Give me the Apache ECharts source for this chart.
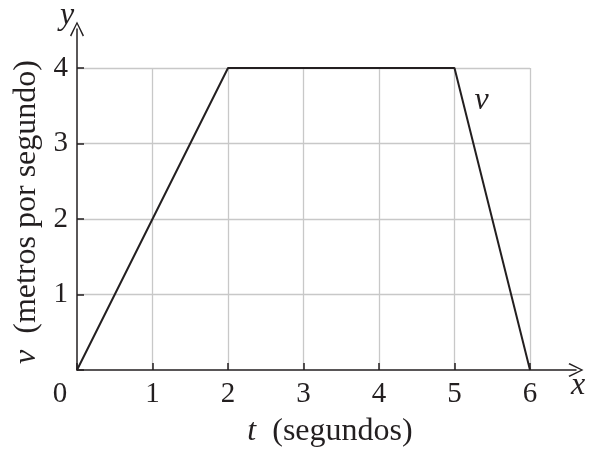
<!DOCTYPE html>
<html>
<head>
<meta charset="utf-8">
<script src="https://cdn.jsdelivr.net/npm/echarts@6/dist/echarts.min.js"></script>
<style>
  html, body { margin: 0; padding: 0; background: #fff; }
  #chart { width: 594px; height: 450px; }
</style>
</head>
<body>
<div id="chart"></div>
<script>
const tiempo = [0, 2, 5, 6];
const velocidad = [0, 4, 4, 0];
const tMax = 6;
const vMax = 4;
const curveName = "v";

const ink = "#231f20";
const gridGray = "#c8c8c8";
const serif = "Liberation Serif";

// open chevron arrow head
const chevron = "path://M0,10 L5,0 L10,10 L9.1,10.7 L5,2 L0.9,10.7 Z";

const cfg = {
  animation: false,
  backgroundColor: "#fff",
  grid: [
    { left: 77, top: 68, width: 453, height: 302, outerBoundsMode: "none", containLabel: false },
    { left: 77, top: 29, right: 18, bottom: 80, outerBoundsMode: "none", containLabel: false },
  ],
  xAxis: [
    {
      gridIndex: 0,
      type: "value",
      min: 0,
      max: tMax,
      interval: 1,
      axisLine: { show: false },
      axisTick: { show: true, inside: true, length: 7, lineStyle: { color: ink, width: 1.5 } },
      splitLine: { show: true, showMinLine: false, lineStyle: { color: gridGray, width: 1.3 } },
      axisLabel: {
        margin: 10,
        color: ink,
        fontFamily: serif,
        fontSize: 29,
        formatter: (v) => (v === 0 ? "{z|0}" : `${v}`),
        rich: { z: { padding: [0, 34, 0, 0], fontFamily: serif, fontSize: 29, color: ink } },
      },
      name: "{i|t}  (segundos)",
      nameLocation: "middle",
      nameGap: 46,
      nameTextStyle: {
        color: ink,
        fontFamily: serif,
        fontSize: 32,
        padding: [0, 0, 0, 53],
        rich: { i: { fontStyle: "italic", fontFamily: serif, fontSize: 32, color: ink } },
      },
    },
    {
      gridIndex: 1,
      type: "value",
      min: 0,
      max: 1,
      axisLine: {
        show: true,
        lineStyle: { color: ink, width: 1.5 },
        symbol: ["none", chevron],
        symbolSize: [16, 15],
      },
      axisTick: { show: false },
      axisLabel: { show: false },
      splitLine: { show: false },
      name: "x",
      nameLocation: "end",
      nameGap: -5,
      nameTextStyle: {
        color: ink,
        fontFamily: serif,
        fontSize: 32,
        fontStyle: "italic",
        align: "left",
        verticalAlign: "top",
      },
    },
  ],
  yAxis: [
    {
      gridIndex: 0,
      type: "value",
      min: 0,
      max: vMax,
      interval: 1,
      axisLine: { show: false },
      axisTick: { show: true, inside: true, length: 7, lineStyle: { color: ink, width: 1.5 } },
      splitLine: { show: true, showMinLine: false, lineStyle: { color: gridGray, width: 1.3 } },
      axisLabel: {
        margin: 9,
        color: ink,
        fontFamily: serif,
        fontSize: 29,
        formatter: (v) => (v === 0 ? "" : `${v}`),
      },
      name: "{i|v}  (metros por segundo)",
      nameLocation: "middle",
      nameGap: 30,
      nameTextStyle: {
        color: ink,
        fontFamily: serif,
        fontSize: 32,
        padding: [0, 0, 0, 14],
        rich: { i: { fontStyle: "italic", fontFamily: serif, fontSize: 32, color: ink } },
      },
    },
    {
      gridIndex: 1,
      type: "value",
      min: 0,
      max: 1,
      axisLine: {
        show: true,
        lineStyle: { color: ink, width: 1.5 },
        symbol: ["none", chevron],
        symbolSize: [16, 15],
      },
      axisTick: { show: false },
      axisLabel: { show: false },
      splitLine: { show: false },
      name: "y",
      nameLocation: "end",
      nameGap: -3,
      nameTextStyle: {
        color: ink,
        fontFamily: serif,
        fontSize: 32,
        fontStyle: "italic",
        padding: [0, 20, 0, 0],
      },
    },
  ],
  series: [
    {
      name: curveName,
      type: "line",
      xAxisIndex: 0,
      yAxisIndex: 0,
      symbol: "circle",
      symbolSize: 0,
      showSymbol: true,
      lineStyle: { color: ink, width: 2 },
      itemStyle: { color: ink },
      data: tiempo.map((t, i) => [t, velocidad[i]]),
      label: {
        show: true,
        position: "right",
        distance: 5,
        offset: [15, 33],
        color: ink,
        fontFamily: serif,
        fontSize: 32,
        fontStyle: "italic",
        formatter: (p) => (p.dataIndex === 2 ? curveName : ""),
      },
    },
  ],
};

const chart = echarts.init(document.getElementById("chart"));
chart.setOption(cfg);
</script>
</body>
</html>
